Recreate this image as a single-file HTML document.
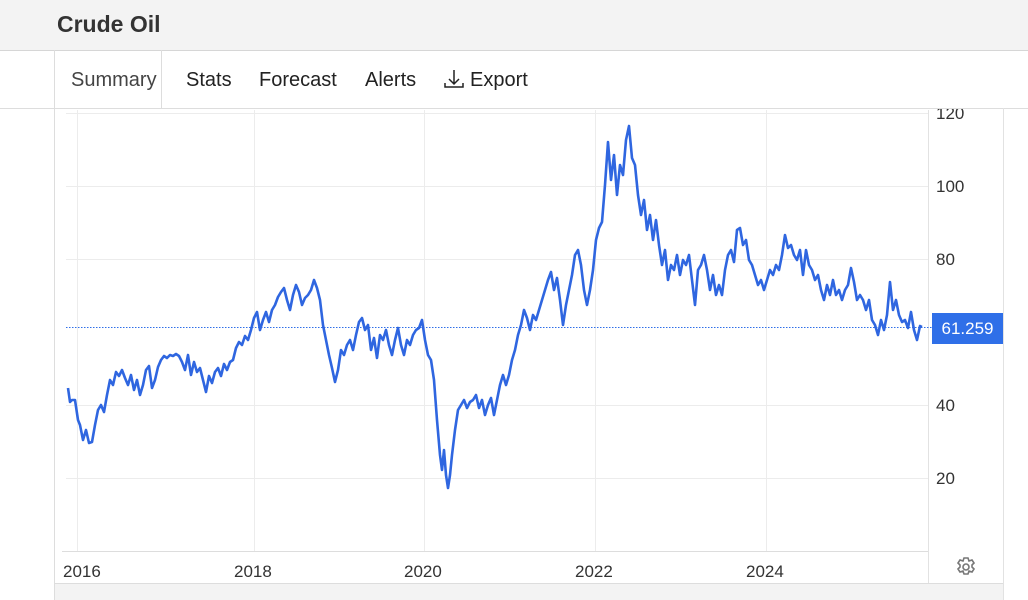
<!DOCTYPE html>
<html><head><meta charset="utf-8"><style>
html,body{margin:0;padding:0;width:1028px;height:600px;overflow:hidden;background:#fff;font-family:"Liberation Sans",sans-serif}
</style></head><body>
<svg width="1028" height="600" xmlns="http://www.w3.org/2000/svg" font-family="Liberation Sans, sans-serif">
<defs><clipPath id="c"><rect x="0" y="109" width="1028" height="491"/></clipPath></defs>
<g font-size="17" fill="#333" clip-path="url(#c)">
<text x="936" y="119">120</text>
</g>
<rect x="0" y="0" width="1028" height="50" fill="#f3f3f3"/>
<line x1="0" y1="50.5" x2="1028" y2="50.5" stroke="#d6d6d6"/>
<text x="57" y="32" font-size="23" font-weight="bold" fill="#333">Crude Oil</text>
<line x1="54.5" y1="50" x2="54.5" y2="600" stroke="#ddd"/>
<line x1="161.5" y1="50" x2="161.5" y2="108" stroke="#ddd"/>
<line x1="0" y1="108.5" x2="1028" y2="108.5" stroke="#ddd"/>
<text x="71" y="86" font-size="20" fill="#444">Summary</text>
<text x="186" y="86" font-size="20" fill="#222">Stats</text>
<text x="259" y="86" font-size="20" fill="#222">Forecast</text>
<text x="365" y="86" font-size="20" fill="#222">Alerts</text>
<path d="M454 70 v14 M449 79 l5 5 l5 -5 M445 83 v4 h18 v-4" stroke="#222" stroke-width="1.5" fill="none"/>
<text x="470" y="86" font-size="20" fill="#222">Export</text>
<g stroke="#ececec" stroke-width="1">
<line x1="66" y1="113.5" x2="928" y2="113.5"/>
<line x1="66" y1="186.5" x2="928" y2="186.5"/>
<line x1="66" y1="259.5" x2="928" y2="259.5"/>
<line x1="66" y1="405.5" x2="928" y2="405.5"/>
<line x1="66" y1="478.5" x2="928" y2="478.5"/>
<line x1="77.5" y1="110" x2="77.5" y2="551"/>
<line x1="254.5" y1="110" x2="254.5" y2="551"/>
<line x1="424.5" y1="110" x2="424.5" y2="551"/>
<line x1="595.5" y1="110" x2="595.5" y2="551"/>
<line x1="766.5" y1="110" x2="766.5" y2="551"/>
</g>
<line x1="928.5" y1="110" x2="928.5" y2="583" stroke="#e2e2e2"/>
<line x1="1003.5" y1="108" x2="1003.5" y2="600" stroke="#e2e2e2"/>
<line x1="62" y1="551.5" x2="928" y2="551.5" stroke="#ddd"/>
<rect x="55" y="584" width="948" height="16" fill="#f3f3f3"/>
<line x1="55" y1="583.5" x2="1003" y2="583.5" stroke="#ddd"/>
<g font-size="17" fill="#333">
<text x="936" y="192">100</text>
<text x="936" y="265">80</text>
<text x="936" y="411">40</text>
<text x="936" y="484">20</text>
<text x="63" y="577">2016</text>
<text x="234" y="577">2018</text>
<text x="404" y="577">2020</text>
<text x="575" y="577">2022</text>
<text x="746" y="577">2024</text>
</g>
<line x1="66" y1="327.5" x2="932" y2="327.5" stroke="#2f6fe8" stroke-width="1" stroke-dasharray="1.5,1.5"/>
<polyline fill="none" stroke="#2f66e0" stroke-width="2.6" stroke-linejoin="round" points="68,388 70,402 72,400 75,400 78,420 80,425 83,440 86,430 89,443 92,442 95,425 98,410 101,405 104,412 107,395 110,380 113,385 116,372 119,376 122,370 125,378 128,385 131,375 134,390 137,380 140,395 143,385 146,370 149,366 152,388 155,380 158,367 161,360 164,356 167,358 170,355 173,356 176,354 179,356 182,362 185,370 188,355 191,375 194,362 197,372 200,368 203,380 206,392 209,376 212,383 215,372 218,368 221,376 224,364 227,370 230,362 233,360 236,348 239,342 242,345 245,336 248,340 251,330 254,318 257,312 260,330 263,320 266,312 269,322 272,310 275,305 278,297 281,292 284,288 287,300 290,310 293,295 296,285 299,292 302,305 305,298 308,295 311,290 314,280 317,288 320,300 323,325 326,340 329,355 332,368 335,382 338,370 341,350 344,355 347,345 350,340 353,350 356,335 359,322 362,318 365,330 368,325 371,350 374,338 377,358 380,335 383,340 386,330 389,345 392,355 395,340 398,328 401,345 404,355 407,340 410,345 413,335 416,330 419,328 422,320 425,340 428,355 431,360 434,380 437,420 440,455 442,470 444,450 446,475 448,488 450,475 452,455 455,430 458,410 461,405 464,400 467,408 470,402 473,400 476,395 479,408 482,400 485,415 488,405 491,398 494,415 497,400 500,385 503,375 506,385 509,375 512,360 515,350 518,335 521,325 524,310 527,318 530,330 533,315 536,320 539,310 542,300 545,290 548,280 551,272 554,290 557,278 560,300 563,325 566,305 569,290 572,275 575,255 578,250 581,265 584,290 587,305 590,290 593,270 596,240 599,228 602,222 605,185 608,142 611,180 614,155 617,195 620,165 623,175 626,140 629,126 632,158 635,165 638,195 641,215 644,200 647,230 650,215 653,240 656,220 659,245 662,265 665,250 668,280 671,265 674,270 677,255 680,275 683,260 686,265 689,255 692,280 695,305 698,270 701,265 704,255 707,270 710,290 713,275 716,295 719,285 722,295 725,270 728,255 731,250 734,262 737,230 740,228 743,245 746,240 749,260 752,265 755,275 758,285 761,280 764,290 767,280 770,270 773,275 776,265 779,270 782,255 785,235 788,248 791,245 794,255 797,260 800,250 803,275 806,250 809,265 812,270 815,280 818,275 821,290 824,300 827,285 830,295 833,280 836,295 839,290 842,300 845,290 848,285 851,268 854,282 857,300 860,295 863,300 866,310 869,300 872,320 875,325 878,335 881,320 884,330 887,315 890,282 893,310 896,300 899,315 902,322 905,320 908,328 911,312 914,330 917,340 920,326 922,327"/>
<rect x="932" y="313" width="71" height="31" fill="#2f6fe8"/>
<text x="967.5" y="334" font-size="17" fill="#fff" text-anchor="middle">61.259</text>
<g transform="translate(966,567)" fill="none" stroke="#777" stroke-width="1.6">
<circle r="3"/>
<path d="M-2,-9 h4 l1,3 l3,-1 l2,3 l-2,2 l0,2 l2,2 l-2,3 l-3,-1 l-1,3 h-4 l-1,-3 l-3,1 l-2,-3 l2,-2 l0,-2 l-2,-2 l2,-3 l3,1 z"/>
</g>
</svg>
</body></html>
